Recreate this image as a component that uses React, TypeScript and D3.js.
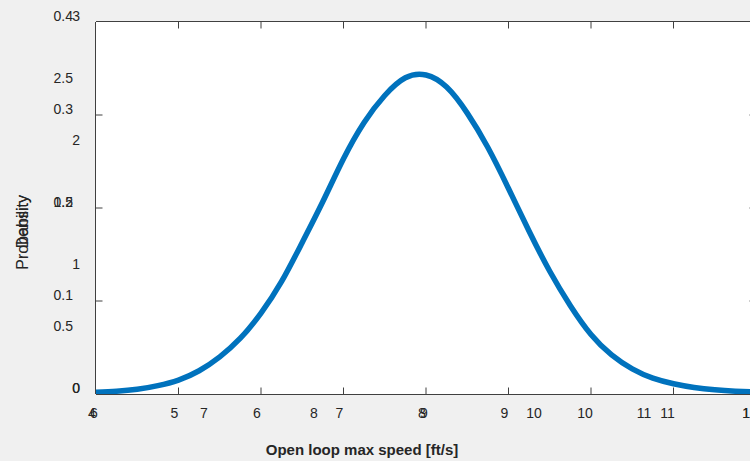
import React from "react";
import * as d3 from "d3";

// Values
const speed = [
  4, 4.25, 4.5, 4.75, 5, 5.25, 5.5, 5.75, 6, 6.25, 6.5, 6.75, 7, 7.25, 7.5, 7.75, 8,
  8.25, 8.5, 8.75, 9, 9.25, 9.5, 9.75, 10, 10.25, 10.5, 10.75, 11, 11.25, 11.5, 11.75, 12,
];
const probability = [
  0.002, 0.003, 0.005, 0.009, 0.015, 0.025, 0.04, 0.06, 0.087, 0.121, 0.163, 0.207, 0.253,
  0.292, 0.321, 0.34, 0.343, 0.33, 0.302, 0.265, 0.221, 0.175, 0.132, 0.095, 0.064, 0.042,
  0.027, 0.017, 0.011, 0.007, 0.0045, 0.003, 0.002,
];

// two overlaid axes (as in the original figure)
const xTicksA = [4, 5, 6, 7, 8, 9, 10, 11, 12];
const xTicksB = [6, 7, 8, 9, 10, 11, 12];
const yTicksA = [0, 0.1, 0.2, 0.3, 0.4];
const yTicksB = [0, 0.5, 1, 1.5, 2, 2.5, 3];

const W = 750;
const H = 461;
const left = 96;
const right = 756;
const top = 22;
const bottom = 394;
const tickLen = 6.5;
const axisColor = "#404040";
const textColor = "#262626";
const font = "'Liberation Sans', Arial, Helvetica, sans-serif";

const App = () => {
  const xA = d3.scaleLinear().domain([4, 12]).range([left, right]);
  const xB = d3.scaleLinear().domain([6, 12]).range([left, right]);
  const yA = d3.scaleLinear().domain([0, 0.4]).range([bottom, top]);
  const yB = d3.scaleLinear().domain([0, 3]).range([bottom, top]);

  const line = d3
    .line<number>()
    .x((d, i) => xA(speed[i]))
    .y((d) => yA(d))
    .curve(d3.curveNatural);

  const innerX = xTicksA.slice(1, -1);
  const innerY = yTicksA.slice(1, -1);

  return (
    <svg
      width={W}
      height={H}
      style={{ position: "absolute", left: 0, top: 0, background: "#f0f0f0" }}
      fontFamily={font}
    >
      <rect x={left} y={top} width={right - left} height={bottom - top} fill="#fff" />

      {/* curve */}
      <path
        d={line(probability) || ""}
        fill="none"
        stroke="#0072bd"
        strokeWidth={5.5}
        strokeLinejoin="round"
      />

      {/* box */}
      <g stroke={axisColor} strokeWidth={1} fill="none">
        <line x1={left} x2={right} y1={bottom + 0.5} y2={bottom + 0.5} />
        <line x1={left} x2={right} y1={top - 0.5} y2={top - 0.5} />
        <line x1={left - 0.5} x2={left - 0.5} y1={top} y2={bottom} />
        <line x1={right} x2={right} y1={top} y2={bottom} />
        {innerX.map((t) => (
          <g key={"xt" + t}>
            <line x1={xA(t)} x2={xA(t)} y1={bottom} y2={bottom - tickLen} />
            <line x1={xA(t)} x2={xA(t)} y1={top} y2={top + tickLen} />
          </g>
        ))}
        {innerY.map((t) => (
          <g key={"yt" + t}>
            <line x1={left} x2={left + tickLen} y1={yA(t)} y2={yA(t)} />
            <line x1={right} x2={right - tickLen} y1={yA(t)} y2={yA(t)} />
          </g>
        ))}
      </g>

      {/* x tick labels */}
      <g fontSize={14} fill={textColor} textAnchor="middle">
        {xTicksA.map((t) => (
          <text key={"xa" + t} x={xA(t) - (t >= 10 ? 6 : 4)} y={418}>
            {t}
          </text>
        ))}
        {xTicksB.map((t) => (
          <text key={"xb" + t} x={xB(t) - (t >= 12 ? 6 : 2)} y={418}>
            {t}
          </text>
        ))}
      </g>

      {/* y tick labels */}
      <g fontSize={14} fill={textColor} textAnchor="end">
        {yTicksA.map((t) => (
          <text key={"ya" + t} x={Number.isInteger(t) ? 80 : 73} y={yA(t) - 1}>
            {t}
          </text>
        ))}
        {yTicksB.map((t) => (
          <text key={"yb" + t} x={Number.isInteger(t) ? 80 : 73} y={yB(t) - 1}>
            {t}
          </text>
        ))}
      </g>

      {/* axis labels */}
      <text x={362} y={455} textAnchor="middle" fontSize={15} fontWeight="bold" fill={textColor}>
        Open loop max speed [ft/s]
      </text>
      <g fontSize={16} fill={textColor} textAnchor="end">
        <text transform="translate(28,195) rotate(-90)">Probability</text>
        <text transform="translate(28,195) rotate(-90)">Density</text>
      </g>
    </svg>
  );
};

export default App;
